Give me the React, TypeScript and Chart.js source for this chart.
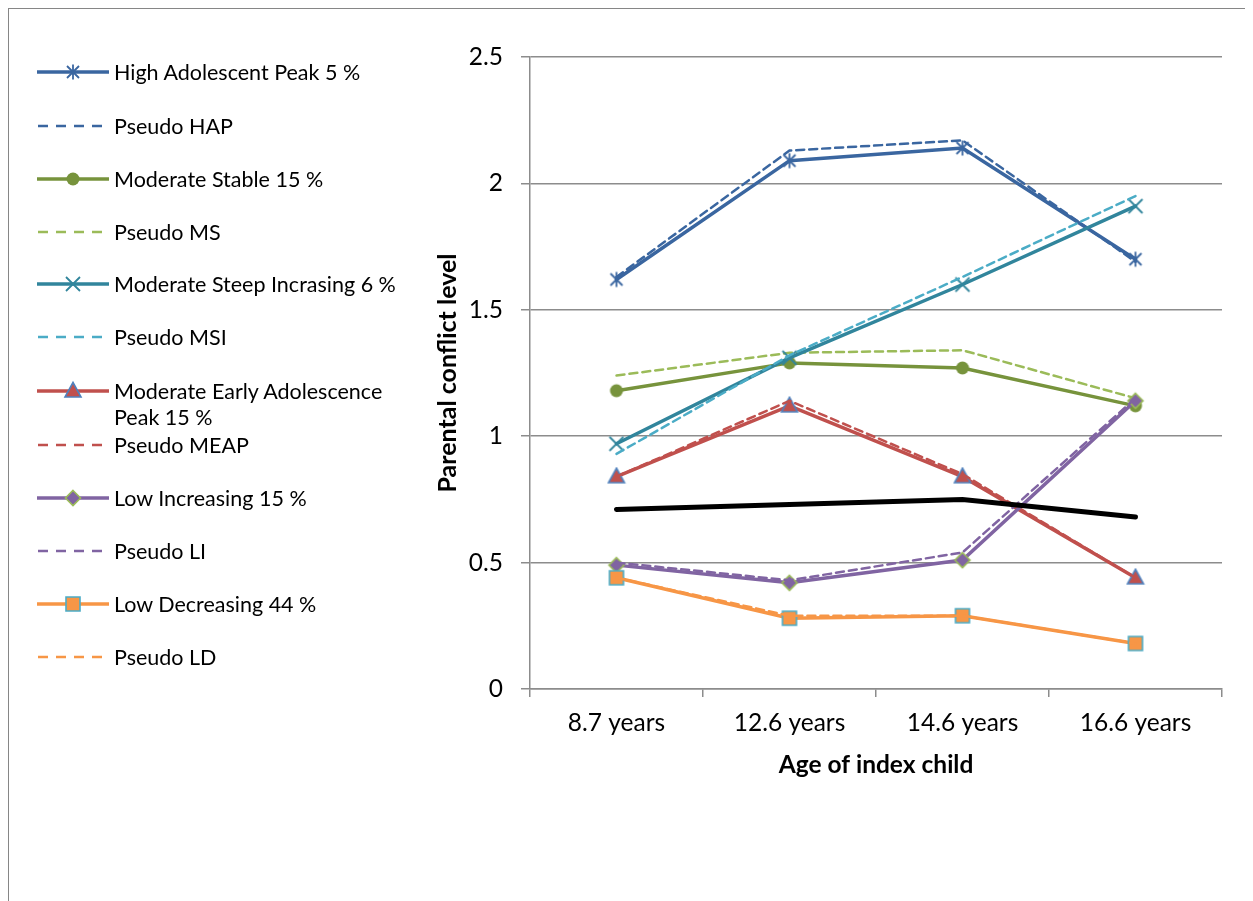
import React, { useEffect, useRef } from "react";
import { Chart, registerables } from "chart.js";

Chart.register(...registerables);

const categories = ["8.7 years", "12.6 years", "14.6 years", "16.6 years"];
const yTicks = [0, 0.5, 1, 1.5, 2, 2.5];

const hap = [1.62, 2.09, 2.14, 1.7];
const pseudoHap = [1.63, 2.13, 2.17, 1.69];
const ms = [1.18, 1.29, 1.27, 1.12];
const pseudoMs = [1.24, 1.33, 1.34, 1.15];
const msi = [0.97, 1.31, 1.6, 1.91];
const pseudoMsi = [0.93, 1.32, 1.63, 1.95];
const meap = [0.84, 1.12, 0.84, 0.44];
const pseudoMeap = [0.84, 1.14, 0.85, 0.44];
const li = [0.49, 0.42, 0.51, 1.14];
const pseudoLi = [0.5, 0.43, 0.54, 1.15];
const ld = [0.44, 0.28, 0.29, 0.18];
const pseudoLd = [0.44, 0.29, 0.29, 0.18];
const overall = [0.71, 0.73, 0.75, 0.68];

type Marker = "star" | "circle" | "cross" | "triangle" | "diamond" | "square" | "none";

interface Series {
  label: string[];
  data: number[];
  color: string;
  dashed: boolean;
  marker: Marker;
  markerFill?: string;
  markerStroke?: string;
  width: number;
  inLegend: boolean;
}

const series: Series[] = [
  { label: ["High Adolescent Peak 5 %"], data: hap, color: "#3A66A0", dashed: false, marker: "star", markerStroke: "#3A66A0", width: 3.5, inLegend: true },
  { label: ["Pseudo HAP"], data: pseudoHap, color: "#3A66A0", dashed: true, marker: "none", width: 2.5, inLegend: true },
  { label: ["Moderate Stable 15 %"], data: ms, color: "#77933C", dashed: false, marker: "circle", markerFill: "#77933C", markerStroke: "#77933C", width: 3.5, inLegend: true },
  { label: ["Pseudo MS"], data: pseudoMs, color: "#9BBB59", dashed: true, marker: "none", width: 2.5, inLegend: true },
  { label: ["Moderate Steep Incrasing 6 %"], data: msi, color: "#31859C", dashed: false, marker: "cross", markerStroke: "#31859C", width: 3.5, inLegend: true },
  { label: ["Pseudo MSI"], data: pseudoMsi, color: "#4BACC6", dashed: true, marker: "none", width: 2.5, inLegend: true },
  { label: ["Moderate Early Adolescence", "Peak 15 %"], data: meap, color: "#C0504D", dashed: false, marker: "triangle", markerFill: "#C0504D", markerStroke: "#4F81BD", width: 3.5, inLegend: true },
  { label: ["Pseudo MEAP"], data: pseudoMeap, color: "#C0504D", dashed: true, marker: "none", width: 2.5, inLegend: true },
  { label: ["Low Increasing 15 %"], data: li, color: "#8064A2", dashed: false, marker: "diamond", markerFill: "#8064A2", markerStroke: "#9BBB59", width: 3.5, inLegend: true },
  { label: ["Pseudo LI"], data: pseudoLi, color: "#8064A2", dashed: true, marker: "none", width: 2.5, inLegend: true },
  { label: ["Low Decreasing 44 %"], data: ld, color: "#F79646", dashed: false, marker: "square", markerFill: "#F79646", markerStroke: "#4BACC6", width: 3.5, inLegend: true },
  { label: ["Pseudo LD"], data: pseudoLd, color: "#F79646", dashed: true, marker: "none", width: 2.5, inLegend: true },
  { label: ["Overall"], data: overall, color: "#000000", dashed: false, marker: "none", width: 5, inLegend: false },
];

const FONT = "Lato, 'Open Sans', sans-serif";
const GRID = "#8C8C8C";

function drawMarkerPath(ctx: CanvasRenderingContext2D, m: Marker, cx: number, cy: number, fill?: string, stroke?: string) {
  ctx.save();
  ctx.lineJoin = "miter";
  if (m === "star") {
    ctx.strokeStyle = stroke || "#000";
    ctx.lineWidth = 1.8;
    ctx.beginPath();
    ctx.moveTo(cx - 6, cy - 6); ctx.lineTo(cx + 6, cy + 6);
    ctx.moveTo(cx - 6, cy + 6); ctx.lineTo(cx + 6, cy - 6);
    ctx.moveTo(cx, cy - 7.5); ctx.lineTo(cx, cy + 7.5);
    ctx.stroke();
  } else if (m === "cross") {
    ctx.strokeStyle = stroke || "#000";
    ctx.lineWidth = 1.8;
    ctx.beginPath();
    ctx.moveTo(cx - 7, cy - 7); ctx.lineTo(cx + 7, cy + 7);
    ctx.moveTo(cx - 7, cy + 7); ctx.lineTo(cx + 7, cy - 7);
    ctx.stroke();
  } else if (m === "circle") {
    ctx.fillStyle = fill || "#000";
    ctx.beginPath();
    ctx.arc(cx, cy, 6.5, 0, Math.PI * 2);
    ctx.fill();
  } else if (m === "triangle") {
    ctx.fillStyle = fill || "#000";
    ctx.strokeStyle = stroke || "#000";
    ctx.lineWidth = 1.6;
    ctx.beginPath();
    ctx.moveTo(cx, cy - 8.5); ctx.lineTo(cx + 8, cy + 6); ctx.lineTo(cx - 8, cy + 6); ctx.closePath();
    ctx.fill(); ctx.stroke();
  } else if (m === "diamond") {
    ctx.fillStyle = fill || "#000";
    ctx.strokeStyle = stroke || "#000";
    ctx.lineWidth = 1.6;
    ctx.beginPath();
    ctx.moveTo(cx, cy - 7.5); ctx.lineTo(cx + 7.5, cy); ctx.lineTo(cx, cy + 7.5); ctx.lineTo(cx - 7.5, cy); ctx.closePath();
    ctx.fill(); ctx.stroke();
  } else if (m === "square") {
    ctx.fillStyle = fill || "#000";
    ctx.strokeStyle = stroke || "#000";
    ctx.lineWidth = 1.6;
    ctx.beginPath();
    ctx.rect(cx - 7, cy - 7, 14, 14);
    ctx.fill(); ctx.stroke();
  }
  ctx.restore();
}

function makeMarkerCanvas(m: Marker, fill?: string, stroke?: string): HTMLCanvasElement {
  const c = document.createElement("canvas");
  c.width = 20; c.height = 20;
  const ctx = c.getContext("2d")!;
  drawMarkerPath(ctx, m, 10, 10, fill, stroke);
  return c;
}

function LegendSample({ s }: { s: Series }) {
  const ref = useRef<HTMLCanvasElement | null>(null);
  useEffect(() => {
    const c = ref.current!;
    const ctx = c.getContext("2d")!;
    ctx.clearRect(0, 0, c.width, c.height);
    ctx.strokeStyle = s.color;
    ctx.lineWidth = s.width;
    ctx.lineCap = "butt";
    ctx.beginPath();
    if (s.dashed) ctx.setLineDash([10, 8]);
    ctx.moveTo(s.dashed ? 1 : 0, 12);
    ctx.lineTo(72, 12);
    ctx.stroke();
    ctx.setLineDash([]);
    if (s.marker !== "none") drawMarkerPath(ctx, s.marker, 36, 12, s.markerFill, s.markerStroke);
  }, [s]);
  return <canvas ref={ref} width={72} height={24} style={{ position: "absolute", left: 0, top: 0 }} />;
}

const legendCenters = [72, 126, 179, 232, 284, 337, 391, 445, 498, 551, 604, 657];

export default function App() {
  const canvasRef = useRef<HTMLCanvasElement | null>(null);

  useEffect(() => {
    document.documentElement.style.overflow = "hidden";
    document.body.style.overflow = "hidden";
    const ctx = canvasRef.current!.getContext("2d")!;
    const n = series.length;
    const chart = new Chart(ctx, {
      type: "line",
      data: {
        labels: categories,
        datasets: series.map((s, i) => ({
          label: s.label.join(" "),
          data: s.data,
          borderColor: s.color,
          backgroundColor: s.color,
          borderWidth: s.width,
          borderDash: s.dashed ? [8, 5] : [],
          borderCapStyle: "round" as const,
          borderJoinStyle: "miter" as const,
          fill: false,
          tension: 0,
          order: n - i,
          pointStyle: s.marker === "none" ? false : (makeMarkerCanvas(s.marker, s.markerFill, s.markerStroke) as any),
          pointRadius: s.marker === "none" ? 0 : 10,
          pointHoverRadius: s.marker === "none" ? 0 : 10,
        })),
      },
      options: {
        animation: false,
        responsive: false,
        maintainAspectRatio: false,
        layout: { padding: { left: 420, right: 31, top: 48, bottom: 92 } },
        plugins: { legend: { display: false }, tooltip: { enabled: false } },
        scales: {
          x: {
            type: "category",
            offset: true,
            grid: { offset: true, drawOnChartArea: false, drawTicks: true, tickLength: 8, color: GRID, lineWidth: 1.5 },
            border: { display: true, color: GRID, width: 1.5 },
            ticks: { color: "#000", font: { family: FONT, size: 24.5 }, padding: 11, maxRotation: 0, autoSkip: false },
            title: { display: true, text: "Age of index child", color: "#000", font: { family: FONT, size: 24.5, weight: "bold" }, padding: { top: 0, bottom: 29 } },
            afterFit: (s: any) => { s.height = 120; },
          },
          y: {
            type: "linear",
            min: 0,
            max: 2.5,
            afterBuildTicks: (s: any) => { s.ticks = yTicks.map((v) => ({ value: v })); },
            grid: { color: GRID, lineWidth: 1.5, tickLength: 9, drawTicks: true },
            border: { display: true, color: GRID, width: 1.5 },
            ticks: { color: "#000", font: { family: FONT, size: 24.5 }, padding: 18, callback: (v: any) => String(v) },
            title: { display: true, text: "Parental conflict level", color: "#000", font: { family: FONT, size: 25, weight: "bold" }, padding: { top: 4, bottom: 0 } },
            afterFit: (s: any) => { s.width = 101; },
          },
        },
      },
    });
    return () => chart.destroy();
  }, []);

  return (
    <div style={{ position: "relative", width: 1245, height: 893, boxSizing: "border-box", borderTop: "1px solid #868686", borderLeft: "1px solid #868686", background: "#fff" }}>
      <canvas ref={canvasRef} width={1244} height={892} style={{ position: "absolute", left: 0, top: 0, width: 1244, height: 892 }} />
      {series.filter((s) => s.inLegend).map((s, i) => (
        <div key={i} style={{ position: "absolute", left: 28, top: legendCenters[i] - 12 - 9, height: 24 }}>
          <div style={{ position: "relative", width: 72, height: 24 }}>
            <LegendSample s={s} />
          </div>
          <div style={{ position: "absolute", left: 77, top: 0, fontFamily: FONT, fontSize: 21.5, whiteSpace: "nowrap", color: "#000" }}>
            {s.label.map((t, j) => (
              <div key={j} style={{ lineHeight: j === 0 ? "24px" : "28px" }}>{t}</div>
            ))}
          </div>
        </div>
      ))}
    </div>
  );
}
